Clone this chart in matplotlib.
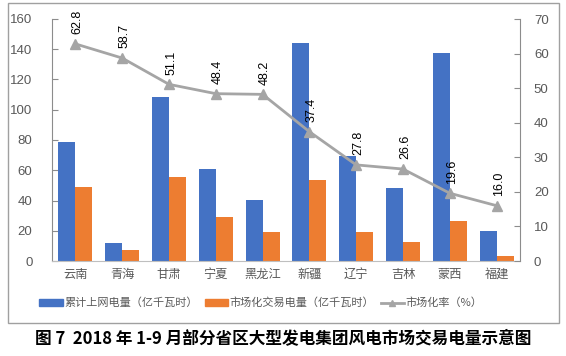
import matplotlib
matplotlib.use("Agg")
import matplotlib.pyplot as plt
from matplotlib.patches import Rectangle
from matplotlib.lines import Line2D
import numpy as np

plt.rcParams['font.family'] = ['Liberation Sans', 'Noto Sans CJK SC', 'DejaVu Sans']

categories = ['云南', '青海', '甘肃', '宁夏', '黑龙江', '新疆', '辽宁', '吉林', '蒙西', '福建']
online_power = [78.5, 11.8, 108.3, 60.8, 40.3, 144.0, 69.4, 48.0, 137.5, 20.0]
market_power = [48.7, 7.3, 55.5, 29.0, 19.4, 53.5, 19.2, 12.6, 26.4, 3.3]
market_rate = [62.8, 58.7, 51.1, 48.4, 48.2, 37.4, 27.8, 26.6, 19.6, 16.0]
rate_labels = ['62.8', '58.7', '51.1', '48.4', '48.2', '37.4', '27.8', '26.6', '19.6', '16.0']
left_ticks = [0, 20, 40, 60, 80, 100, 120, 140, 160]
right_ticks = [0, 10, 20, 30, 40, 50, 60, 70]
legend_labels = ['累计上网电量（亿千瓦时）', '市场化交易电量（亿千瓦时）', '市场化率（%）']
caption = '图 7  2018 年 1-9 月部分省区大型发电集团风电市场交易电量示意图'

BLUE = '#4472C4'
ORANGE = '#ED7D31'
GRAY = '#A5A5A5'
TXT = '#595959'
AX = '#8C8C8C'

fig = plt.figure(figsize=(5.66, 3.56), dpi=100)
fig.patch.set_facecolor('white')

# chart border
fig.add_artist(Rectangle((8/566, 1-323/356), 551/566, 320/356, transform=fig.transFigure,
                         fill=False, edgecolor='#A0A0A0', linewidth=1.0))

ax = fig.add_axes([52/566, 1-261/356, 468/566, 242/356])
x = np.arange(len(categories))
w = 0.363
ax.bar(x - w/2, online_power, width=w, color=BLUE, zorder=2)
ax.bar(x + w/2, market_power, width=w, color=ORANGE, zorder=2)
ax.set_xlim(-0.5, len(categories) - 0.5)
ax.set_ylim(0, 160)
ax.set_yticks(left_ticks)
ax.set_xticks(x)
ax.set_xticklabels(categories, fontsize=8.8, color=TXT, family=['Noto Sans CJK SC'])
ax.tick_params(axis='x', length=0, pad=5)
ax.tick_params(axis='y', direction='in', length=4, color=AX, labelsize=9.5, labelcolor=TXT, pad=14)
for s in ['top', 'right']:
    ax.spines[s].set_visible(False)
ax.spines['left'].set_color(AX)
ax.spines['bottom'].set_color('#BFBFBF')
ax.spines['left'].set_linewidth(0.8)

ax2 = ax.twinx()
ax2.plot(x, market_rate, color=GRAY, linewidth=2, marker='^', markersize=6.5, zorder=3)
ax2.set_ylim(0, 70)
ax2.set_yticks(right_ticks)
ax2.tick_params(axis='y', direction='in', length=4, color=AX, labelsize=9.5, labelcolor=TXT, pad=10)
for s in ['top', 'left', 'bottom']:
    ax2.spines[s].set_visible(False)
ax2.spines['right'].set_color(AX)
ax2.spines['right'].set_linewidth(0.8)
for xi, v, lab in zip(x, market_rate, rate_labels):
    ax2.annotate(lab, (xi, v), xytext=(1.5, 7), textcoords='offset points',
                 rotation=90, ha='center', va='bottom', fontsize=9, color='black')

handles = [Rectangle((0, 0), 1, 0.55, color=BLUE),
           Rectangle((0, 0), 1, 0.55, color=ORANGE),
           Line2D([0], [0], color=GRAY, linewidth=2, marker='^', markersize=5)]
leg = fig.legend(handles, legend_labels, loc='center', bbox_to_anchor=(261/566, 1-303/356),
                 ncol=3, frameon=False, handlelength=2.1, handleheight=0.5,
                 handletextpad=0.15, columnspacing=0.6,
                 prop={'family': ['Noto Sans CJK SC'], 'size': 8})
for t in leg.get_texts():
    t.set_color(TXT)

fig.text(0.5, 1-339/356, caption, ha='center', va='center', fontsize=12, fontweight='bold',
         color='black', family=['Noto Sans CJK SC'])

fig.savefig('out.png', dpi=100)
